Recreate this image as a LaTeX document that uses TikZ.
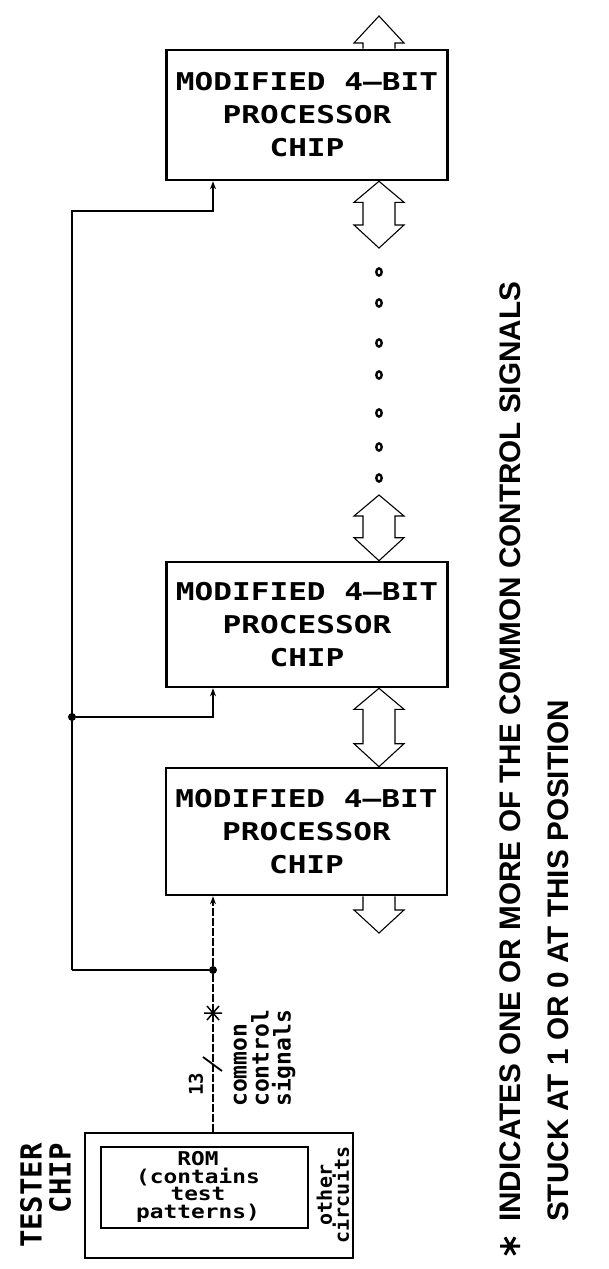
\documentclass[tikz,border=0pt]{standalone}
\usepackage{fontspec}
\usepackage{graphicx}
\usetikzlibrary{calc,arrows.meta}
\newfontfamily\ler{DejaVu Sans Mono}
\newfontfamily\ftn{Liberation Sans}
\newcommand\stx[1]{\scalebox{1.27}[1]{#1}}
\newcommand\rtx[1]{\scalebox{1.2}[1]{#1}}
\newcommand\busdbl[2]{%
  \draw[bus] (#1) -- ($(#1)+(-25,21)$) -- ($(#1)+(-16,21)$) -- ($(#2)+(-16,-23)$)
    -- ($(#2)+(-25,-23)$) -- (#2) -- ($(#2)+(25,-23)$) -- ($(#2)+(16,-23)$)
    -- ($(#1)+(16,21)$) -- ($(#1)+(25,21)$) -- cycle;}
\begin{document}
\begin{tikzpicture}[x=1pt,y=-1pt,
  chip/.style={draw, line width=2.6pt, minimum width=281pt, inner sep=0pt, align=center,
    font=\ler\bfseries\fontsize{24.5}{33}\selectfont},
  bus/.style={draw, line width=1.1pt, line join=miter},
  ctl/.style={line width=1.6pt},
  sig/.style={line width=1.1pt, dash pattern=on 8pt off 2pt},
  tip/.style={-{Stealth[length=8pt,width=6pt]}},
  jdot/.style={circle, fill, inner sep=0pt, minimum size=8pt},
  bdot/.style={line width=2.4pt},
  rot/.style={rotate=90, inner sep=0pt}]
\fill[white] (0,0) rectangle (608,1269);
\useasboundingbox (0,0) rectangle (608,1269);

% processor chips
\node[chip, minimum height=130pt] (p1) at (307,115) {\stx{MODIFIED 4–BIT}\\\stx{PROCESSOR}\\\stx{CHIP}};
\node[chip, minimum height=125pt] (p2) at (307,624.5) {\stx{MODIFIED 4–BIT}\\\stx{PROCESSOR}\\\stx{CHIP}};
\node[chip, minimum height=127pt] (p3) at (306.5,831.5) {\stx{MODIFIED 4–BIT}\\\stx{PROCESSOR}\\\stx{CHIP}};

% bus arrows
\coordinate (ax) at (379,0);
\coordinate (xl) at (213,0);
\coordinate (t0) at (379,16);
\coordinate (u1) at (p1.north -| ax);
\draw[bus] ($(u1)+(-16,0)$) -- ($(t0)+(-16,27)$) -- ($(t0)+(-25,27)$) -- (t0)
  -- ($(t0)+(25,27)$) -- ($(t0)+(16,27)$) -- ($(u1)+(16,0)$);
\coordinate (a1) at (p1.south -| ax);
\coordinate (a2) at (379,248);
\busdbl{a1}{a2}
\coordinate (b1) at (379,495);
\coordinate (b2) at (p2.north -| ax);
\busdbl{b1}{b2}
\coordinate (c1) at (p2.south -| ax);
\coordinate (c2) at (p3.north -| ax);
\busdbl{c1}{c2}
\coordinate (d1) at (p3.south -| ax);
\coordinate (d2) at (379,933);
\draw[bus] ($(d1)+(-16,0)$) -- ($(d2)+(-16,-23)$) -- ($(d2)+(-25,-23)$) -- (d2)
  -- ($(d2)+(25,-23)$) -- ($(d2)+(16,-23)$) -- ($(d1)+(16,0)$);

% dots between chips
\foreach \yy in {272,303,343,375,413,447,478}
  \draw[bdot] (379,\yy) ellipse [x radius=2.7pt, y radius=3.6pt];

% tester chip
\node[draw, line width=2pt, minimum width=268pt, minimum height=125pt, inner sep=0pt] (tester) at (219,1195.5) {};
\node[draw, line width=2.2pt, minimum width=207pt, minimum height=81pt, inner sep=0pt] (rom) at (204.5,1187.5) {};
\node[align=center, inner sep=0pt, font=\ler\bfseries\fontsize{19}{17.5}\selectfont] (romtxt) at (198,1187) {\rtx{ROM}\\\rtx{(contains}\\\rtx{test}\\\rtx{patterns)}};
\node[rot, align=center, font=\ler\bfseries\fontsize{20}{17}\selectfont] (oc) at (333,1195) {other\\circuits};
\node[rot, anchor=east, align=right, font=\ler\bfseries\fontsize{29}{29}\selectfont] (tc) at (45.5,1143) {TESTER\\CHIP};

% control lines
\coordinate (tl) at (72,211);
\coordinate (bl) at (72,970);
\node[jdot] (j1) at (72,717) {};
\node[jdot] (j2) at (213,970) {};
\draw[ctl,tip] (bl) -- (tl) -- (tl -| xl) -- (p1.south -| xl);
\draw[ctl,tip] (j1) -| (p2.south -| xl);
\draw[ctl] (bl) -- (j2);
\draw[sig,tip] (j2) -- (p3.south -| xl);
\draw[sig] (tester.north -| xl) -- (j2);

% stuck-at star and bus width mark
\coordinate (st) at (213,1013);
\draw[line width=1.5pt] ($(st)+(-9,0)$) -- ($(st)+(9,0)$)
  ($(st)+(-6,-7)$) -- ($(st)+(6,7)$) ($(st)+(-6,7)$) -- ($(st)+(6,-7)$)
  ($(st)+(0,-9)$) -- ($(st)+(0,9)$);
\draw[line width=1.8pt] (203,1057) -- (222,1071);
\node[rot, font=\ler\bfseries\fontsize{19}{19}\selectfont] (n13) at (196,1084) {13};
\node[rot, anchor=west, align=left, font=\ler\bfseries\fontsize{23}{22}\selectfont] (ccs) at (264.5,1107) {common\\control\\signals};

% footnote
\coordinate (fs) at (510,1246);
\draw[line width=3pt] ($(fs)+(-10,0)$) -- ($(fs)+(10,0)$)
  ($(fs)+(-5,-8.7)$) -- ($(fs)+(5,8.7)$) ($(fs)+(-5,8.7)$) -- ($(fs)+(5,-8.7)$);
\node[rot, anchor=west, align=left, font=\ftn\bfseries\fontsize{29.7}{48}\selectfont] (fn) at (534,1222)
  {INDICATES ONE OR MORE OF THE COMMON CONTROL SIGNALS\\STUCK AT 1 OR 0 AT THIS POSITION};
\end{tikzpicture}
\end{document}
